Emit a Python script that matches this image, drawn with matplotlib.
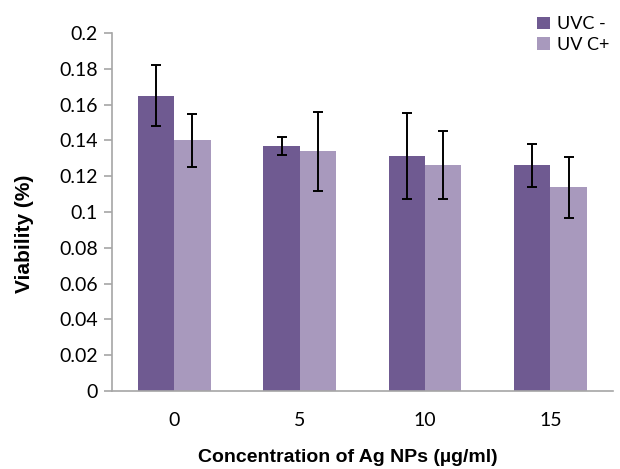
import matplotlib
matplotlib.use("Agg")
import matplotlib.pyplot as plt
import numpy as np

# data
concentrations = ["0", "5", "10", "15"]
uvc_minus = [0.165, 0.137, 0.1315, 0.126]
uvc_minus_err = [0.017, 0.005, 0.024, 0.012]
uvc_plus = [0.140, 0.134, 0.1265, 0.1137]
uvc_plus_err = [0.015, 0.022, 0.019, 0.017]
series_names = ["UVC -", "UV C+"]

dark = "#6f5a91"
light = "#a899bd"
spine_col = "#a6a6a6"

fig = plt.figure(figsize=(6.2, 4.69), dpi=100)
ax = fig.add_axes([0.18, 0.1663, 0.809, 0.7633])

x = np.arange(len(concentrations))
w = 0.29
err_kw = dict(ecolor="black", elinewidth=1.4, capsize=3.5, capthick=1.4)
ax.bar(x - w / 2, uvc_minus, w, color=dark, yerr=uvc_minus_err,
       error_kw=err_kw, label=series_names[0])
ax.bar(x + w / 2, uvc_plus, w, color=light, yerr=uvc_plus_err,
       error_kw=err_kw, label=series_names[1])

ax.set_xlim(-0.5, len(concentrations) - 0.5)
ax.set_ylim(0, 0.2)
ax.set_yticks(np.arange(0, 0.201, 0.02))
ax.set_yticklabels(["0", "0.02", "0.04", "0.06", "0.08", "0.1", "0.12",
                    "0.14", "0.16", "0.18", "0.2"])
ax.set_xticks(x)
ax.set_xticklabels(concentrations)

for s in ["top", "right"]:
    ax.spines[s].set_visible(False)
for s in ["left", "bottom"]:
    ax.spines[s].set_color(spine_col)
    ax.spines[s].set_linewidth(1.2)

ax.tick_params(axis="y", length=6, width=1.2, color=spine_col, pad=4,
               labelsize=14)
ax.tick_params(axis="x", length=0, pad=15, labelsize=14)
for lab in ax.get_xticklabels() + ax.get_yticklabels():
    lab.set_fontfamily("Lato")

ax.set_xlabel("Concentration of Ag NPs (µg/ml)", fontsize=14,
              fontweight="bold", family="Liberation Sans")
ax.xaxis.set_label_coords(0.47, -0.163)
ax.set_ylabel("Viability (%)", fontsize=15, fontweight="bold",
              family="Liberation Sans")
ax.yaxis.set_label_coords(-0.155, 0.44)

fig.legend(loc="upper left", bbox_to_anchor=(0.84, 1.0), frameon=False,
           handlelength=0.7, handleheight=0.7, handletextpad=0.4,
           labelspacing=0.25, prop={"family": "Lato", "size": 13})

fig.savefig("out.png", dpi=100)
